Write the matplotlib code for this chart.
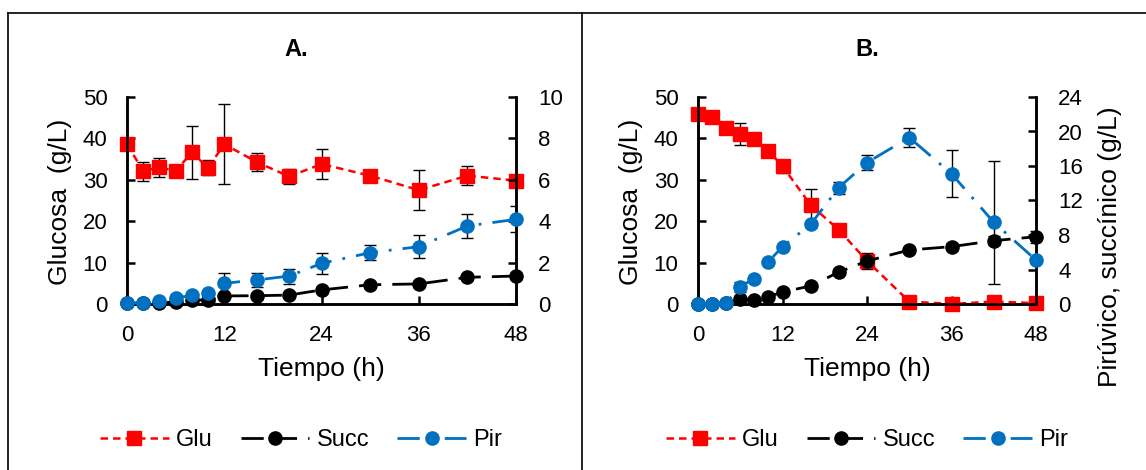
import matplotlib.pyplot as plt
from matplotlib.lines import Line2D

plt.rcParams['font.family'] = ['Liberation Sans', 'DejaVu Sans']

W, H = 1146, 470

time_h = [0, 2, 4, 6, 8, 10, 12, 16, 20, 24, 30, 36, 42, 48]

# Panel A
glu_a = [38.6, 32.1, 33.0, 32.1, 36.6, 32.9, 38.6, 34.3, 30.8, 33.8, 31.0, 27.5, 31.0, 29.8]
glu_a_err = [0.3, 2.3, 2.3, 0.3, 6.5, 1.8, 9.7, 2.2, 1.7, 3.7, 0.5, 4.8, 2.3, 0.3]
succ_a = [0.05, 0.03, 0.05, 0.1, 0.19, 0.19, 0.39, 0.4, 0.43, 0.68, 0.93, 0.97, 1.29, 1.35]
succ_a_err = [0.02, 0.02, 0.02, 0.03, 0.05, 0.05, 0.08, 0.07, 0.08, 0.1, 0.08, 0.1, 0.12, 0.15]
pir_a = [0.05, 0.05, 0.15, 0.27, 0.43, 0.52, 1.0, 1.16, 1.35, 1.96, 2.48, 2.77, 3.77, 4.09]
pir_a_err = [0.02, 0.02, 0.03, 0.05, 0.06, 0.08, 0.5, 0.34, 0.36, 0.5, 0.37, 0.55, 0.6, 0.63]

# Panel B
glu_b = [46.0, 45.1, 42.4, 41.0, 39.9, 37.0, 33.3, 23.9, 17.9, 10.4, 0.6, 0.0, 0.6, 0.2]
glu_b_err = [0.3, 0.3, 0.5, 2.7, 0.5, 0.5, 1.6, 3.8, 0.5, 1.9, 0.3, 0.2, 0.3, 0.2]
succ_b = [0.0, 0.0, 0.1, 0.54, 0.46, 0.85, 1.39, 2.09, 3.7, 4.98, 6.26, 6.65, 7.34, 7.8]
succ_b_err = [0.02, 0.02, 0.03, 0.1, 0.1, 0.1, 0.15, 0.15, 0.2, 0.3, 0.2, 0.4, 0.5, 0.7]
pir_b = [0.0, 0.0, 0.15, 2.0, 2.94, 4.9, 6.65, 9.24, 13.5, 16.4, 19.3, 15.1, 9.47, 5.1]
pir_b_err = [0.02, 0.02, 0.05, 0.6, 0.2, 0.2, 0.2, 0.3, 0.7, 0.9, 1.1, 2.7, 7.1, 0.3]

RED = '#FF0000'
BLUE = '#0070C0'
GLU_LS = (0, (3, 2))
SUCC_LS = (0, (8, 4))
PIR_LS = (0, (8, 4, 1, 4))


def fx(px):
    return px / W


def fy(py):
    return 1 - py / H


def draw_panel(fig, box, glu, glu_err, succ, succ_err, pir, pir_err,
               rmax, rstep, title, cx, ylab_x, rlabel=None):
    x0, x1 = box
    ax = fig.add_axes([fx(x0), fy(304), (x1 - x0) / W, 207 / H])
    ax2 = ax.twinx()

    ax.errorbar(time_h, glu, yerr=glu_err, fmt='none', ecolor='black',
                elinewidth=1, capsize=4, capthick=1, zorder=2)
    ax.plot(time_h, glu, color=RED, ls=GLU_LS, lw=1.8, marker='s',
            ms=9.5, clip_on=False, zorder=3)

    ax2.errorbar(time_h, succ, yerr=succ_err, fmt='none', ecolor='black',
                 elinewidth=1, capsize=4, capthick=1, zorder=2)
    ax2.plot(time_h, succ, color='black', ls=SUCC_LS, lw=2, marker='o',
             ms=9.5, clip_on=False, zorder=3)
    ax2.errorbar(time_h, pir, yerr=pir_err, fmt='none', ecolor='black',
                 elinewidth=1, capsize=4, capthick=1, zorder=2)
    ax2.plot(time_h, pir, color=BLUE, ls=PIR_LS, lw=2, marker='o',
             ms=9.5, clip_on=False, zorder=4)

    ax.set_xlim(0, 48)
    ax.set_ylim(0, 50)
    ax2.set_ylim(0, rmax)
    ax.set_xticks([0, 12, 24, 36, 48])
    ax.set_yticks(range(0, 51, 10))
    ax2.set_yticks(range(0, rmax + 1, rstep))

    for a in (ax, ax2):
        a.spines['top'].set_visible(False)
        for s in ('left', 'right', 'bottom'):
            a.spines[s].set_linewidth(1.8)
        a.tick_params(direction='in', length=6, width=1.8, labelsize=16)
    ax.tick_params(axis='x', pad=15)
    ax.tick_params(axis='y', pad=14)
    ax2.tick_params(axis='y', pad=16)

    fig.text(fx(cx), fy(369), 'Tiempo (h)', fontsize=19, ha='center', va='center')
    fig.text(fx(ylab_x), fy(202), 'Glucosa  (g/L)', fontsize=19, rotation=90,
             ha='center', va='center')
    if rlabel:
        fig.text(fx(1110), fy(247), rlabel, fontsize=19, rotation=90,
                 ha='center', va='center')

    fig.text(fx(cx - 25 if title == 'A.' else cx), fy(49), title, fontsize=17,
             fontweight='bold', ha='center', va='center')

    handles = [
        Line2D([], [], color=RED, ls=GLU_LS, lw=1.8, marker='s', ms=9.5),
        Line2D([], [], color='black', ls=SUCC_LS, lw=2, marker='o', ms=9.5),
        Line2D([], [], color=BLUE, ls=PIR_LS, lw=2, marker='o', ms=9.5),
    ]
    fig.legend(handles, ['Glu', 'Succ', 'Pir'], loc='center',
               bbox_to_anchor=(fx(cx - 20 if title == 'A.' else cx), fy(440)),
               ncol=3, frameon=False, fontsize=17, handlelength=2.9,
               handletextpad=0.3, columnspacing=1.2, numpoints=1)


fig = plt.figure(figsize=(W / 100, H / 100), dpi=100)

draw_panel(fig, (127, 516), glu_a, glu_a_err, succ_a, succ_a_err, pir_a, pir_a_err,
           10, 2, 'A.', 321, 60)
draw_panel(fig, (698, 1036), glu_b, glu_b_err, succ_b, succ_b_err, pir_b, pir_b_err,
           24, 4, 'B.', 867, 631, rlabel='Pirúvico, succínico (g/L)')

# panel frames
for xs, ys in [((fx(8), 1.0), (fy(13), fy(13))),
               ((fx(8), fx(8)), (fy(13), 0)),
               ((fx(582), fx(582)), (fy(13), 0))]:
    fig.add_artist(Line2D(xs, ys, color='black', lw=1.2))

fig.savefig('out.png', dpi=100)
